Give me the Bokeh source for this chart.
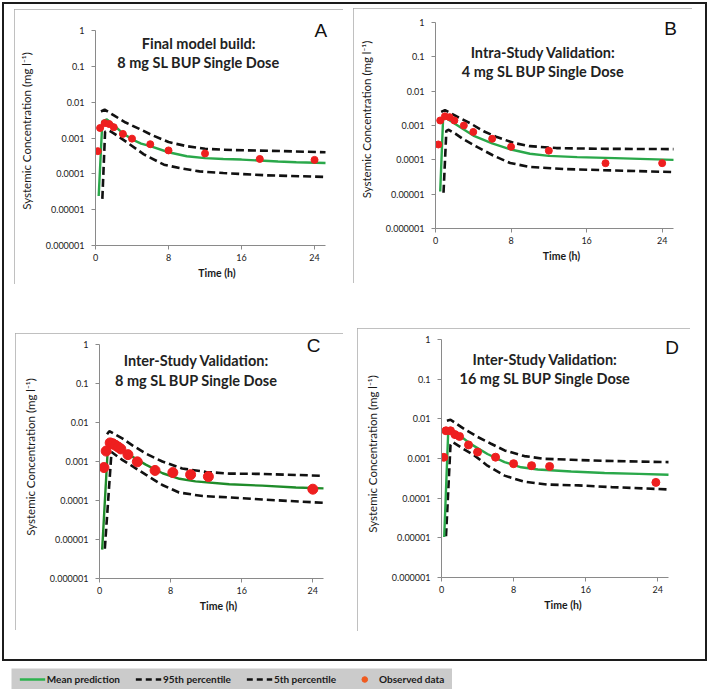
from bokeh.plotting import figure
from bokeh.models import Range1d, FixedTicker, CustomJSTickFormatter, Label, Legend, LegendItem, Spacer
from bokeh.layouts import row, column
from bokeh.embed import file_html
from bokeh.resources import INLINE

# ---------------- data ----------------
X_TICKS = [0, 8, 16, 24]
X_MAX = 25.2
Y_TICKS = [1e-6, 1e-5, 1e-4, 1e-3, 1e-2, 1e-1, 1]
Y_TICK_LABELS = ["0.000001", "0.00001", "0.0001", "0.001", "0.01", "0.1", "1"]
Y_LABEL = "Systemic Concentration (mg l\u207b\u00b9)"
X_LABEL = "Time (h)"
LEGEND_LABELS = ["Mean prediction", "95th percentile", "5th percentile", "Observed data"]

# Panel A: Final model build, 8 mg
A_obs_t = [0.25, 0.5, 1, 1.5, 2, 3, 4, 6, 8, 12, 18, 24]
A_obs_c = [4.3e-4, 1.9e-3, 2.6e-3, 2.45e-3, 2.0e-3, 1.3e-3, 9.6e-4, 6.7e-4, 4.5e-4, 3.7e-4, 2.6e-4, 2.45e-4]
A_mean_t = [0.35, 0.75, 1.25, 2, 3, 4, 5, 6, 8, 10, 12, 14, 16, 18, 20, 22, 25.2]
A_mean_c = [2.4e-5, 2.9e-3, 3.3e-3, 2.3e-3, 1.35e-3, 9.2e-4, 7.0e-4, 5.9e-4, 4.0e-4, 3.1e-4, 2.75e-4,
            2.6e-4, 2.5e-4, 2.35e-4, 2.2e-4, 2.1e-4, 2.0e-4]
A_p95_t = [0.6, 1.0, 2.2, 3.3, 4.8, 6.2, 8, 10, 12, 15, 19, 25.2]
A_p95_c = [5.5e-3, 6.2e-3, 4.0e-3, 2.7e-3, 1.8e-3, 1.2e-3, 7.7e-4, 5.9e-4, 5.0e-4, 4.6e-4, 4.4e-4, 4.0e-4]
A_p5_t = [0.75, 1.05, 1.5, 2, 3.5, 5.3, 7.5, 9.2, 11.4, 14, 18.7, 25.2]
A_p5_c = [2.0e-5, 1.5e-3, 1.6e-3, 1.35e-3, 7.4e-4, 3.5e-4, 1.8e-4, 1.45e-4, 1.17e-4, 1.05e-4, 9.1e-5, 8.2e-5]

# Panel B: Intra-study validation, 4 mg
B_obs_t = [0.3, 0.5, 1, 1.5, 2, 3, 4, 6, 8, 12, 18, 24]
B_obs_c = [2.8e-4, 1.4e-3, 1.85e-3, 1.75e-3, 1.4e-3, 1.0e-3, 6.5e-4, 4.1e-4, 2.4e-4, 1.85e-4, 8.0e-5, 8.0e-5]
B_mean_t = [0.5, 0.8, 1.1, 1.6, 3, 4, 6, 8, 10, 12, 15, 19, 22.5, 25.2]
B_mean_c = [1.2e-5, 1.5e-3, 1.65e-3, 1.35e-3, 7.6e-4, 5.1e-4, 3.0e-4, 2.0e-4, 1.5e-4, 1.3e-4, 1.2e-4,
            1.12e-4, 1.05e-4, 1.0e-4]
B_p95_t = [0.6, 1.0, 2.3, 3.7, 5.1, 6.5, 8.3, 10, 12.8, 17, 25.2]
B_p95_c = [2.5e-3, 2.8e-3, 1.8e-3, 1.15e-3, 6.8e-4, 4.6e-4, 3.1e-4, 2.5e-4, 2.2e-4, 2.1e-4, 2.05e-4]
B_p5_t = [0.85, 1.15, 1.4, 2.1, 3.0, 4.5, 6.2, 7.9, 10, 13.6, 18.8, 25.2]
B_p5_c = [1.1e-5, 7.0e-4, 7.5e-4, 5.8e-4, 3.9e-4, 2.3e-4, 1.3e-4, 8.1e-5, 6.2e-5, 5.4e-5, 4.9e-5, 4.4e-5]

# Panel C: Inter-study validation, 8 mg
C_obs_t = [0.5, 0.75, 1.2, 1.5, 1.8, 2.1, 2.4, 3.2, 4.25, 6.25, 8.25, 10.25, 12.25, 24]
C_obs_c = [7.0e-4, 1.85e-3, 3.0e-3, 2.85e-3, 2.6e-3, 2.35e-3, 2.1e-3, 1.5e-3, 9.8e-4, 5.9e-4, 5.2e-4,
           4.6e-4, 4.1e-4, 1.95e-4]
C_mean_t = [0.3, 0.95, 1.2, 2.2, 3.3, 5.2, 7.1, 9, 10.8, 14.6, 18.3, 22.1, 25.2]
C_mean_c = [5.5e-6, 2.5e-3, 3.2e-3, 2.25e-3, 1.5e-3, 8.3e-4, 5.0e-4, 3.6e-4, 3.1e-4, 2.6e-4, 2.4e-4,
            2.15e-4, 2.05e-4]
C_p95_t = [0.85, 1.1, 2.56, 3.7, 5.2, 7.07, 9.3, 12, 14.6, 18.3, 25.2]
C_p95_c = [5.0e-3, 6.0e-3, 3.9e-3, 2.6e-3, 1.6e-3, 1.0e-3, 6.6e-4, 5.4e-4, 4.9e-4, 4.8e-4, 4.3e-4]
C_p5_t = [0.6, 1.35, 2.56, 3.7, 5.2, 7.07, 8.95, 11.6, 14.6, 18.3, 25.2]
C_p5_c = [5.8e-6, 1.75e-3, 1.1e-3, 7.6e-4, 4.6e-4, 2.5e-4, 1.6e-4, 1.3e-4, 1.2e-4, 1.06e-4, 8.7e-5]

# Panel D: Inter-study validation, 16 mg
D_obs_t = [0.25, 0.5, 1, 1.5, 2, 3, 4, 6, 8, 10, 12, 23.8]
D_obs_c = [1.07e-3, 5.0e-3, 5.0e-3, 4.0e-3, 3.6e-3, 2.2e-3, 1.45e-3, 1.08e-3, 7.4e-4, 6.6e-4, 6.3e-4, 2.5e-4]
D_mean_t = [0.3, 0.75, 1.1, 2.16, 3.27, 5.1, 7.0, 8.85, 10.7, 14.4, 18.1, 21.9, 25.2]
D_mean_c = [1.05e-5, 5.0e-3, 5.4e-3, 3.6e-3, 2.3e-3, 1.3e-3, 8.1e-4, 6.0e-4, 5.3e-4, 4.7e-4, 4.3e-4,
            4.1e-4, 3.9e-4]
D_p95_t = [0.6, 1.0, 2.5, 4.0, 5.5, 7.0, 9.2, 11.45, 14.4, 18.1, 25.2]
D_p95_c = [9.0e-3, 9.5e-3, 5.6e-3, 3.5e-3, 2.35e-3, 1.6e-3, 1.15e-3, 9.8e-4, 9.3e-4, 8.7e-4, 8.1e-4]
D_p5_t = [0.5, 1.0, 1.25, 2.34, 3.64, 5.1, 7.0, 9.2, 11.8, 15.2, 18.9, 25.2]
D_p5_c = [1.1e-5, 2.2e-3, 2.6e-3, 1.8e-3, 1.2e-3, 6.6e-4, 3.7e-4, 2.6e-4, 2.2e-4, 2.1e-4, 1.9e-4, 1.66e-4]

# ---------------- styling ----------------
FONT = "Lato"
RED = "#ee1f1f"
DASH_COLOR = "#111111"
AXIS_GRAY = "#8a8a8a"
PANEL_EDGE = {"outline": "2px solid #ababab", "outline-offset": "-2px"}

y_formatter = CustomJSTickFormatter(args=dict(tv=Y_TICKS, labels=Y_TICK_LABELS), code="""
let best = 0, bd = 1e9;
for (let i = 0; i < tv.length; i++) {
  const d = Math.abs(Math.log10(tick) - Math.log10(tv[i]));
  if (d < bd) { bd = d; best = i; }
}
return labels[best];
""")


def make_panel(letter, titles, obs_t, obs_c, mean_t, mean_c, p95_t, p95_c, p5_t, p5_c,
               width, height, fl, ft, fw, fh, ext_top, ext_right, green, dot_size,
               title_x, title_ys, letter_x, letter_y):
    y_top = 10 ** (6.0 * ext_top / fh)
    x_max = X_MAX * (1.0 + ext_right / fw)
    p = figure(width=width, height=height, x_range=Range1d(0, x_max), y_range=Range1d(1e-6, y_top),
               y_axis_type="log", output_backend="svg", toolbar_location=None,
               min_border_left=fl, min_border_top=ft - ext_top,
               min_border_right=width - fl - fw - ext_right,
               min_border_bottom=height - ft - fh, outline_line_color=None,
               background_fill_color="white", border_fill_color="white",
               styles=PANEL_EDGE)
    p.xgrid.visible = False
    p.ygrid.visible = False
    p.xaxis.ticker = FixedTicker(ticks=X_TICKS)
    p.yaxis.ticker = FixedTicker(ticks=Y_TICKS)
    p.yaxis.formatter = y_formatter
    p.xaxis.bounds = (0, X_MAX)
    p.yaxis.bounds = (1e-6, 1)
    for ax in (p.xaxis[0], p.yaxis[0]):
        ax.axis_line_color = AXIS_GRAY
        ax.major_tick_line_color = AXIS_GRAY
        ax.minor_tick_line_color = None
        ax.major_tick_out = 4
        ax.major_tick_in = 0
        ax.major_label_text_font = FONT
        ax.major_label_text_font_size = "9px"
        ax.major_label_text_color = "#1a1a1a"
        ax.axis_label_text_font = FONT
        ax.axis_label_text_color = "#1a1a1a"
    p.yaxis.axis_label = Y_LABEL
    p.yaxis.axis_label_text_font_size = "11.5px"
    p.yaxis.axis_label_text_font_style = "normal"
    p.yaxis.major_label_standoff = 7
    p.yaxis.axis_label_standoff = 10
    p.xaxis.axis_label = X_LABEL
    p.xaxis.axis_label_text_font_size = "10.5px"
    p.xaxis.axis_label_text_font_style = "bold"
    p.xaxis.major_label_standoff = 4
    p.xaxis.axis_label_standoff = 3

    p.line(p95_t, p95_c, line_color=DASH_COLOR, line_width=2.6, line_dash="8 4")
    p.line(p5_t, p5_c, line_color=DASH_COLOR, line_width=2.6, line_dash="8 4")
    p.line(mean_t, mean_c, line_color=green, line_width=2.4)
    p.scatter(obs_t, obs_c, size=dot_size, fill_color=RED, line_color=RED)

    for txt, ty in zip(titles, title_ys):
        p.add_layout(Label(x=title_x, y=ty, text=txt, text_align="center", text_baseline="middle",
                           text_font=FONT, text_font_size="14.5px", text_font_style="bold",
                           text_color="#222222"))
    p.add_layout(Label(x=letter_x, y=letter_y, text=letter, text_align="center",
                       text_baseline="middle", text_font="Liberation Sans",
                       text_font_size="19px", text_color="#111111"))
    return p


pA = make_panel("A", ["Final model build:", "8 mg SL BUP Single Dose"],
                A_obs_t, A_obs_c, A_mean_t, A_mean_c, A_p95_t, A_p95_c, A_p5_t, A_p5_c,
                329, 275, 81, 21, 230, 215, 14, 13, "#2aa84a", 7,
                11.3, [0.43, 0.126], 24.7, 1.0)
pB = make_panel("B", ["Intra-Study Validation:", "4 mg SL BUP Single Dose"],
                B_obs_t, B_obs_c, B_mean_t, B_mean_c, B_p95_t, B_p95_c, B_p5_t, B_p5_c,
                339, 275, 82, 14, 238, 206, 12, 14, "#2aa84a", 7,
                11.4, [0.136, 0.038], 24.9, 0.66)
pC = make_panel("C", ["Inter-Study Validation:", "8 mg SL BUP Single Dose"],
                C_obs_t, C_obs_c, C_mean_t, C_mean_c, C_p95_t, C_p95_c, C_p5_t, C_p5_c,
                328, 297, 84, 11, 224, 234, 9, 14, "#1f8c2a", 10,
                10.9, [0.39, 0.12], 24.1, 0.95)
pD = make_panel("D", ["Inter-Study Validation:", "16 mg SL BUP Single Dose"],
                D_obs_t, D_obs_c, D_mean_t, D_mean_c, D_p95_t, D_p95_c, D_p5_t, D_p5_c,
                333, 303, 84, 11, 227, 238, 9, 16, "#2aa84a", 8,
                11.5, [0.31, 0.102], 25.6, 0.64)

# ---------------- legend ----------------
lf = figure(width=441, height=21, output_backend="svg", toolbar_location=None,
            x_range=Range1d(-2, -1), y_range=Range1d(-2, -1), min_border=0,
            x_axis_location=None, y_axis_location=None, outline_line_color=None,
            background_fill_color="#cbcbcb", border_fill_color="#cbcbcb")
lf.xgrid.visible = False
lf.ygrid.visible = False
r1 = lf.line(A_mean_t, A_mean_c, line_color="#2eb24e", line_width=2.5)
r2 = lf.line(A_p95_t, A_p95_c, line_color=DASH_COLOR, line_width=2.5, line_dash="6 4")
r3 = lf.line(A_p5_t, A_p5_c, line_color=DASH_COLOR, line_width=2.5, line_dash="6 4")
r4 = lf.scatter(A_obs_t, A_obs_c, size=5, fill_color="#f05a1e", line_color="#f05a1e")
legend = Legend(items=[LegendItem(label=LEGEND_LABELS[0], renderers=[r1]),
                       LegendItem(label=LEGEND_LABELS[1], renderers=[r2]),
                       LegendItem(label=LEGEND_LABELS[2], renderers=[r3]),
                       LegendItem(label=LEGEND_LABELS[3], renderers=[r4])],
                orientation="horizontal", location="center", background_fill_alpha=0,
                border_line_color=None, label_text_font=FONT, label_text_font_style="bold",
                label_text_font_size="10px", label_text_color="#1a1a1a",
                glyph_width=26, glyph_height=14, label_standoff=2, spacing=15,
                padding=0, margin=0)
lf.add_layout(legend)


def sp(w, h):
    return Spacer(width=w, height=h)


row1 = row(sp(12, 1), column(sp(1, 7), pA), sp(10, 1), column(sp(1, 6), pB), sp(15, 1))
row2 = row(sp(13, 1), column(sp(1, 49), pC), sp(14, 1), column(sp(1, 44), pD, sp(1, 30)), sp(17, 1))
box = column(row1, row2, styles={"outline": "2px solid #1c1c1c", "outline-offset": "-2px"})
root = column(sp(1, 2), row(sp(2, 1), box), sp(1, 7), row(sp(11, 1), lf))

open("out.html", "w").write(file_html(root, INLINE))
